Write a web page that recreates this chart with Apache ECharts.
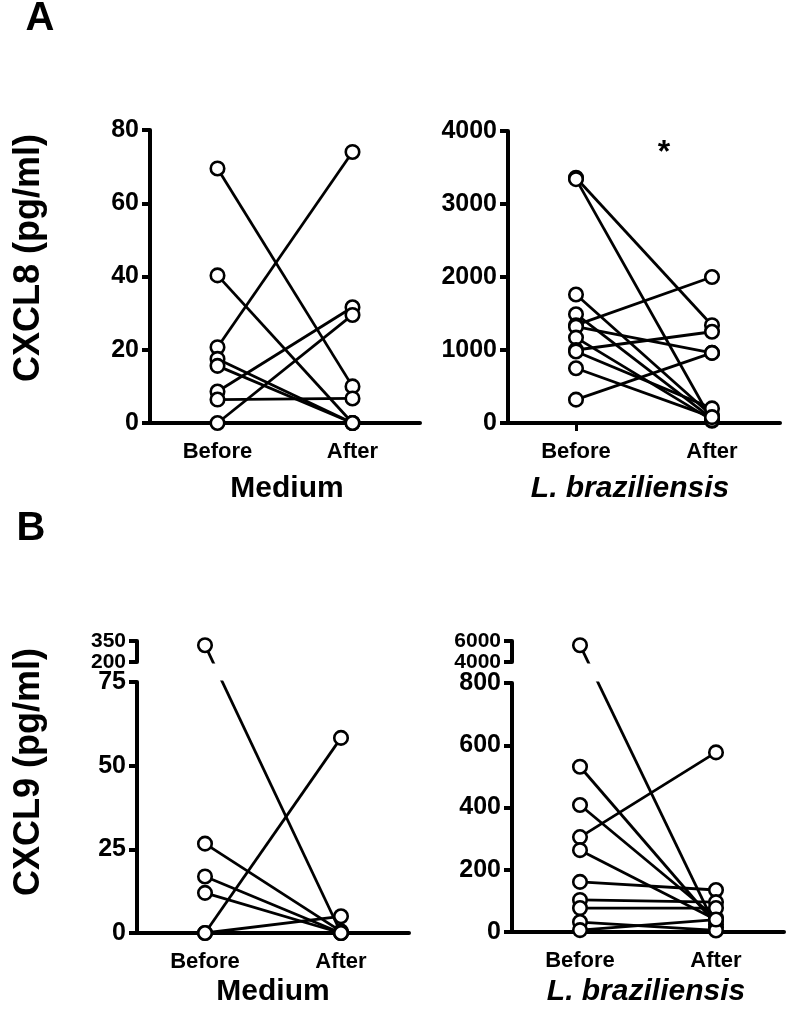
<!DOCTYPE html>
<html><head><meta charset="utf-8">
<script src="https://cdn.jsdelivr.net/npm/echarts@6/dist/echarts.min.js"></script>
<style>html,body{margin:0;padding:0;background:#fff}#c{width:788px;height:1012px}</style>
</head><body><div id="c"></div>
<script>
// ---------- data ----------
const categories = ['Before', 'After'];

const cxcl8MediumBefore = [69.5, 40.3, 20.7, 17.5, 15.6, 8.6, 6.4, 0];
const cxcl8MediumAfter  = [10, 0, 74, 0, 0, 31.6, 6.7, 29.5];
const cxcl8MediumTicks  = [0, 20, 40, 60, 80];

const cxcl8LbBefore = [3360, 3340, 1760, 1490, 1340, 1320, 1170, 1000, 980, 750, 320];
const cxcl8LbAfter  = [1340, 30, 100, 60, 2000, 960, 40, 1250, 200, 80, 960];
const cxcl8LbTicks  = [0, 1000, 2000, 3000, 4000];

const cxcl9MediumBefore = [320, 26.7, 16.9, 12, 0, 0];
const cxcl9MediumAfter  = [0, 0.5, 0, 0, 58.3, 5];
const cxcl9MediumTicks  = [0, 25, 50, 75];
const cxcl9MediumHighTicks = [200, 350];

const cxcl9LbBefore = [5600, 531, 408, 305, 263, 161, 103, 77, 32, 6];
const cxcl9LbAfter  = [15, 25, 45, 577, 39, 135, 96, 77, 5, 40];
const cxcl9LbTicks  = [0, 200, 400, 600, 800];
const cxcl9LbHighTicks = [4000, 6000];

// ---------- layout / styles ----------
const FONT = '"Liberation Sans", Arial, Helvetica, sans-serif';
const AXW = 4;
const panels = [
  {before: cxcl8MediumBefore, after: cxcl8MediumAfter, ticks: cxcl8MediumTicks,
   grid: {left: 150, top: 130, width: 270, height: 293}, xTick: false},
  {before: cxcl8LbBefore, after: cxcl8LbAfter, ticks: cxcl8LbTicks,
   grid: {left: 508, top: 131, width: 272, height: 292}, xTick: true},
  {before: cxcl9MediumBefore, after: cxcl9MediumAfter, ticks: cxcl9MediumTicks, high: cxcl9MediumHighTicks,
   grid: {left: 137, top: 682, width: 272, height: 251}, highGrid: {left: 137, top: 641, width: 272, height: 21}, xTick: false},
  {before: cxcl9LbBefore, after: cxcl9LbAfter, ticks: cxcl9LbTicks, high: cxcl9LbHighTicks,
   grid: {left: 512, top: 683, width: 272, height: 249}, highGrid: {left: 512, top: 641, width: 272, height: 21}, xTick: false}
];

const grids = [], xAxes = [], yAxes = [], series = [];
const pending = [];

function yAxisDef(gi, ticks, fs) {
  return {
    type: 'value', gridIndex: gi,
    min: ticks[0], max: ticks[ticks.length - 1], interval: ticks[1] - ticks[0],
    axisLine: {show: true, onZero: false, lineStyle: {color: '#000', width: AXW}},
    axisTick: {show: true, length: 8, lineStyle: {color: '#000', width: AXW}},
    axisLabel: {color: '#000', fontSize: fs, fontWeight: 'bold', fontFamily: FONT, margin: 11,
      formatter: v => String(v)},
    splitLine: {show: false}
  };
}
function xAxisDef(gi, show, tick) {
  return {
    type: 'value', gridIndex: gi, min: 0.5, max: 2.5, show: show,
    axisLine: {show: true, onZero: false, lineStyle: {color: '#000', width: AXW}},
    axisTick: {show: tick, customValues: [1], length: 8, lineStyle: {color: '#000', width: 3}},
    axisLabel: {show: true, customValues: [1, 2], formatter: v => categories[Math.round(v) - 1] || '',
      color: '#000', fontSize: 22, fontWeight: 'bold', fontFamily: FONT, margin: 18},
    splitLine: {show: false}
  };
}
const lineStyle = {color: '#000', width: 2.8};
const symStyle = {color: '#fff', borderColor: '#000', borderWidth: 2.6, opacity: 1};

panels.forEach(p => {
  const gi = grids.length;
  grids.push(p.grid);
  xAxes.push(xAxisDef(gi, true, p.xTick));
  yAxes.push(yAxisDef(gi, p.ticks, 25));
  const lowMax = p.ticks[p.ticks.length - 1];
  let hi = -1;
  if (p.high) {
    hi = grids.length;
    grids.push(p.highGrid);
    xAxes.push(xAxisDef(hi, false, false));
    yAxes.push(yAxisDef(hi, p.high, 21));
  }
  const lowPts = [], hiPts = [];
  p.before.forEach((b, i) => {
    const a = p.after[i];
    if (hi >= 0 && b > lowMax) {
      hiPts.push([1, b]);
      lowPts.push([2, a]);
      const sUp = series.length;
      series.push({type: 'line', xAxisIndex: hi, yAxisIndex: hi, data: [[1, b], [2, b]], showSymbol: false,
        lineStyle, clip: true, silent: true, animation: false, z: 2});
      const sLow = series.length;
      series.push({type: 'line', xAxisIndex: gi, yAxisIndex: gi, data: [[1, a], [2, a]], showSymbol: false,
        lineStyle, clip: true, silent: true, animation: false, z: 2});
      pending.push({b, a, gi, hi, sUp, sLow});
    } else {
      lowPts.push([1, b], [2, a]);
      series.push({type: 'line', xAxisIndex: gi, yAxisIndex: gi, data: [[1, b], [2, a]], showSymbol: false,
        lineStyle, clip: true, silent: true, animation: false, z: 2});
    }
  });
  series.push({type: 'scatter', xAxisIndex: gi, yAxisIndex: gi, data: lowPts, symbol: 'circle', symbolSize: 13.5,
    itemStyle: symStyle, clip: false, z: 5, animation: false});
  if (hi >= 0) series.push({type: 'scatter', xAxisIndex: hi, yAxisIndex: hi, data: hiPts, symbol: 'circle', symbolSize: 13.5,
    itemStyle: symStyle, clip: false, z: 5, animation: false});
});

function txt(text, x, y, size, opts, italic) {
  return Object.assign({type: 'text', x: x, y: y, style: {text: text, fill: '#000',
    font: (italic ? 'italic ' : '') + 'bold ' + size + 'px ' + FONT,
    textAlign: 'center', textVerticalAlign: 'middle'}}, opts || {});
}
const graphic = [
  txt('A', 40, 19, 40),
  txt('B', 31, 529, 40),
  txt('*', 664, 153, 32),
  txt('CXCL8 (pg/ml)', 29, 258, 36, {rotation: Math.PI / 2}),
  txt('CXCL9 (pg/ml)', 29, 772, 36, {rotation: Math.PI / 2}),
  txt('Medium', 287, 489, 30),
  txt('L. braziliensis', 630, 489, 30, null, true),
  txt('Medium', 273, 992, 30),
  txt('L. braziliensis', 646, 992, 30, null, true)
];

const chart = echarts.init(document.getElementById('c'), null, {renderer: 'canvas'});
chart.setOption({animation: false, backgroundColor: '#fff', grid: grids, xAxis: xAxes, yAxis: yAxes, series: series, graphic: graphic});

// continue lines across the axis break using the library's own scales
pending.forEach(q => {
  const pB = chart.convertToPixel({xAxisIndex: q.hi, yAxisIndex: q.hi}, [1, q.b]);
  const pA = chart.convertToPixel({xAxisIndex: q.gi, yAxisIndex: q.gi}, [2, q.a]);
  const vLow = chart.convertFromPixel({xAxisIndex: q.gi, yAxisIndex: q.gi}, pB)[1];
  const vUp = chart.convertFromPixel({xAxisIndex: q.hi, yAxisIndex: q.hi}, pA)[1];
  series[q.sUp].data = [[1, q.b], [2, vUp]];
  series[q.sLow].data = [[1, vLow], [2, q.a]];
});
chart.setOption({series: series});
</script></body></html>
